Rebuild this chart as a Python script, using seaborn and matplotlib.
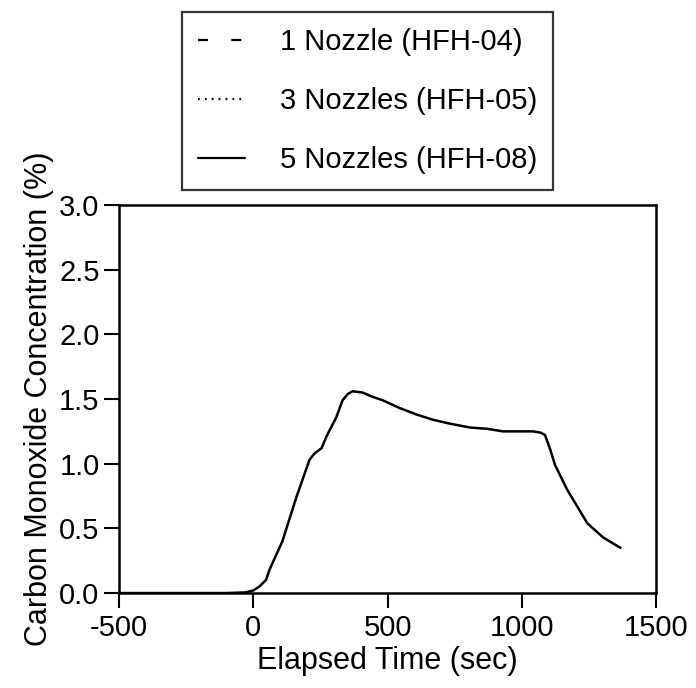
import matplotlib
matplotlib.use("Agg")
import matplotlib.pyplot as plt
from matplotlib.lines import Line2D
import seaborn as sns
import numpy as np

# ─────────────────────────────────────────────
# Data (only HFH-08 is visible)
# ─────────────────────────────────────────────
time_sec = [-500, -300, -100, -30, 0, 22, 47, 60, 108, 160, 209, 228, 254, 272,
            309, 332, 352, 370, 407, 440, 482, 545, 608, 668, 731, 806, 870,
            929, 990, 1041, 1070, 1086, 1105, 1123, 1168, 1243, 1302, 1366]
co_5_nozzles = [0, 0, 0, 0.005, 0.02, 0.05, 0.10, 0.18, 0.40, 0.74, 1.03, 1.08,
                1.12, 1.21, 1.36, 1.49, 1.54, 1.56, 1.55, 1.52, 1.49, 1.43, 1.38,
                1.34, 1.31, 1.28, 1.27, 1.25, 1.25, 1.25, 1.24, 1.22, 1.11, 0.99,
                0.80, 0.54, 0.43, 0.35]

series_labels = ["1 Nozzle (HFH-04)", "3 Nozzles (HFH-05)", "5 Nozzles (HFH-08)"]
series_styles = [(0, (4.5, 10.5)), (0, (0.8, 2.3)), "-"]

x_ticks = [-500, 0, 500, 1000, 1500]
y_ticks = [0.0, 0.5, 1.0, 1.5, 2.0, 2.5, 3.0]

# ─────────────────────────────────────────────
# Style
# ─────────────────────────────────────────────
sns.set_style("ticks")
plt.rcParams['font.family'] = ['Liberation Sans', 'DejaVu Sans']
plt.rcParams['axes.unicode_minus'] = False
plt.rcParams['text.color'] = 'black'
plt.rcParams['axes.labelcolor'] = 'black'

fig = plt.figure(figsize=(6.96, 6.88), dpi=100)
ax = fig.add_axes([0.171, 0.138, 0.772, 0.564])

sns.lineplot(x=time_sec, y=co_5_nozzles, ax=ax, color='black', linewidth=1.8,
             estimator=None, sort=False)

ax.set_xlim(-500, 1500)
ax.set_ylim(0, 3.0)
ax.set_xticks(x_ticks)
ax.set_xticklabels([str(v) for v in x_ticks])
ax.set_yticks(y_ticks)
ax.set_yticklabels([f"{v:.1f}" for v in y_ticks])

ax.tick_params(direction='out', length=11, width=1.5, labelsize=21, colors='black', pad=3)
ax.tick_params(axis='x', pad=4)
for spine in ax.spines.values():
    spine.set_visible(True)
    spine.set_linewidth(1.8)
    spine.set_color('black')

ax.set_xlabel('Elapsed Time (sec)', fontsize=22, labelpad=3, color='black')
ax.set_ylabel('Carbon Monoxide Concentration (%)', fontsize=22, labelpad=4, color='black')

# ─────────────────────────────────────────────
# Legend box above the axes
# ─────────────────────────────────────────────
handles = [Line2D([], [], color='black', linestyle=ls, linewidth=1.6)
           for ls in series_styles]
leg = fig.legend(handles, series_labels, loc='upper left',
                 bbox_to_anchor=(0.2615, 0.9826), fontsize=21, frameon=True,
                 fancybox=False, edgecolor='black', handlelength=1.6,
                 handletextpad=1.2, labelspacing=1.07, borderpad=0.55,
                 borderaxespad=0, labelcolor='black')
leg.get_frame().set_linewidth(1.6)

fig.savefig("out.png", dpi=100, facecolor='white')
